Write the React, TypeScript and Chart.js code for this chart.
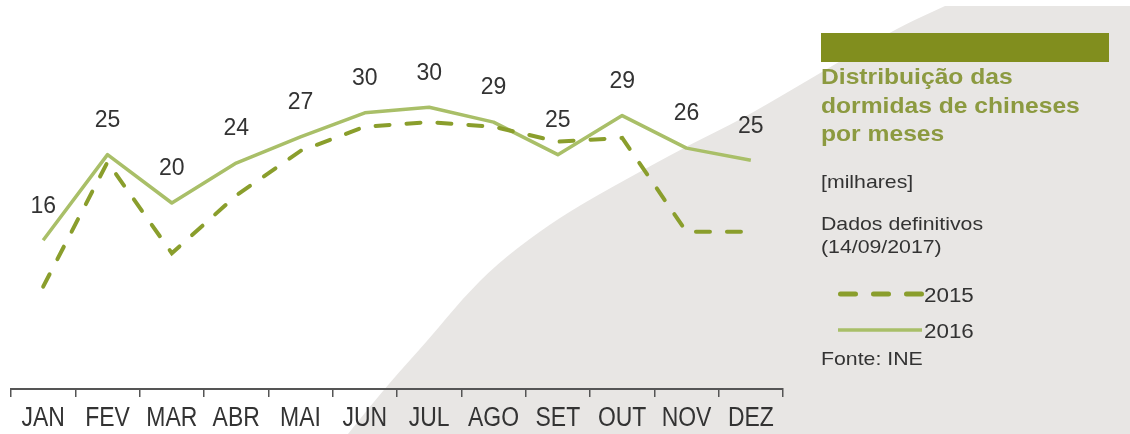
import React, { useEffect, useRef } from "react";
import { Chart, registerables } from "chart.js";

Chart.register(...registerables);

// ---- data ----
const months = ["JAN", "FEV", "MAR", "ABR", "MAI", "JUN", "JUL", "AGO", "SET", "OUT", "NOV", "DEZ"];
const values2015 = [11.0, 24.4, 14.6, 20.8, 25.6, 28.2, 28.7, 28.2, 26.6, 27.0, 16.9, 16.9];
const values2016 = [16.0, 25.2, 20.0, 24.3, 27.1, 29.7, 30.3, 28.7, 25.2, 29.4, 25.9, 24.6];
const seriesNames = ["2015", "2016"];
const titleLines = ["Distribuição das", "dormidas de chineses", "por meses"];
const unitText = "[milhares]";
const noteLines = ["Dados definitivos", "(14/09/2017)"];
const sourceText = "Fonte: INE";

// ---- styles ----
const COLOR_2015 = "#8a9e2c";
const COLOR_2016 = "#a9bf68";
const TITLE_BAR = "#818e1e";
const TITLE_COLOR = "#8c9a40";
const TEXT_COLOR = "#333333";
const BG_GRAY = "#e8e6e4";
const SANS = "'Liberation Sans', Arial, sans-serif";

const bgCurve: [number, number][] = [
  [348, 434], [383, 390], [430, 338], [463, 298], [497, 264], [540, 231], [580, 205],
  [643, 170], [693, 143], [740, 120], [800, 85], [893, 30], [945, 6],
];

const backgroundPlugin = {
  id: "bgShape",
  beforeDraw(chart: any) {
    const ctx = chart.ctx as CanvasRenderingContext2D;
    ctx.save();
    ctx.fillStyle = "#ffffff";
    ctx.fillRect(0, 0, chart.width, chart.height);
    ctx.fillStyle = BG_GRAY;
    ctx.beginPath();
    ctx.moveTo(bgCurve[0][0], bgCurve[0][1]);
    for (let i = 1; i < bgCurve.length - 1; i++) {
      const [x, y] = bgCurve[i];
      const [nx, ny] = bgCurve[i + 1];
      ctx.quadraticCurveTo(x, y, (x + nx) / 2, (y + ny) / 2);
    }
    const last = bgCurve[bgCurve.length - 1];
    ctx.lineTo(last[0], last[1]);
    ctx.lineTo(chart.width, last[1]);
    ctx.lineTo(chart.width, chart.height);
    ctx.closePath();
    ctx.fill();
    ctx.restore();
  },
};

const valueLabelPlugin = {
  id: "valueLabels",
  afterDatasetsDraw(chart: any) {
    const ctx = chart.ctx as CanvasRenderingContext2D;
    const meta = chart.getDatasetMeta(1);
    ctx.save();
    ctx.fillStyle = TEXT_COLOR;
    ctx.font = `23px ${SANS}`;
    ctx.textAlign = "center";
    ctx.textBaseline = "middle";
    meta.data.forEach((pt: any, i: number) => {
      ctx.fillText(String(Math.round(values2016[i])), pt.x, pt.y - 34);
    });
    ctx.restore();
  },
};

// narrow-looking category labels drawn at the x scale's tick positions
const narrowTickPlugin = {
  id: "narrowTicks",
  afterDraw(chart: any) {
    const ctx = chart.ctx as CanvasRenderingContext2D;
    const xs = chart.scales.x;
    ctx.save();
    ctx.fillStyle = TEXT_COLOR;
    ctx.font = `27px ${SANS}`;
    ctx.textAlign = "center";
    ctx.textBaseline = "alphabetic";
    const labels = xs.getLabels();
    xs.ticks.forEach((_t: any, i: number) => {
      const x = xs.getPixelForTick(i);
      ctx.save();
      ctx.translate(x, xs.top + 37);
      ctx.scale(0.85, 1);
      ctx.fillText(String(labels[i]), 0, 0);
      ctx.restore();
    });
    ctx.restore();
  },
};

function TextLine(props: { top: number; size: number; text: string; color?: string; bold?: boolean; left?: number; lh?: number }) {
  const { top, size, text, color, bold, left, lh } = props;
  return (
    <div
      style={{
        position: "absolute",
        left: left ?? 821,
        top,
        fontFamily: SANS,
        fontSize: size,
        lineHeight: `${lh ?? size}px`,
        fontWeight: bold ? 700 : 400,
        color: color ?? TEXT_COLOR,
        whiteSpace: "nowrap",
        transform: "scaleX(1.12)",
        transformOrigin: "left top",
      }}
    >
      {text}
    </div>
  );
}

export default function App() {
  const canvasRef = useRef<HTMLCanvasElement | null>(null);

  useEffect(() => {
    if (!canvasRef.current) return;
    const chart = new Chart(canvasRef.current, {
      type: "line",
      data: {
        labels: months,
        datasets: [
          {
            label: seriesNames[0],
            data: values2015,
            borderColor: COLOR_2015,
            borderWidth: 4,
            borderDash: [14, 17],
            borderCapStyle: "round",
            pointRadius: 0,
            tension: 0,
            fill: false,
          },
          {
            label: seriesNames[1],
            data: values2016,
            borderColor: COLOR_2016,
            borderWidth: 3.5,
            borderJoinStyle: "round",
            pointRadius: 0,
            tension: 0,
            fill: false,
          },
        ],
      },
      options: {
        animation: false,
        responsive: false,
        maintainAspectRatio: false,
        layout: { padding: { top: 17, left: 11, right: 347, bottom: 0 } },
        plugins: { legend: { display: false }, tooltip: { enabled: false } },
        scales: {
          x: {
            offset: true,
            grid: {
              display: true,
              offset: true,
              drawOnChartArea: false,
              drawTicks: true,
              tickLength: 8,
              color: "#555555",
              lineWidth: 1.5,
            },
            border: { display: true, color: "#555555", width: 2 },
            ticks: { display: false, autoSkip: false, maxRotation: 0 },
            afterFit: (s: any) => {
              s.height = 45;
            },
          },
          y: { display: false, min: 0, max: 40 },
        },
      },
      plugins: [backgroundPlugin, valueLabelPlugin, narrowTickPlugin],
    } as any);
    return () => chart.destroy();
  }, []);

  return (
    <div style={{ position: "absolute", left: 0, top: 0, width: 1130, height: 434, overflow: "hidden", background: "#fff" }}>
      <canvas ref={canvasRef} width={1130} height={434} style={{ position: "absolute", left: 0, top: 0, width: 1130, height: 434 }} />
      <div style={{ position: "absolute", left: 821, top: 33, width: 288, height: 29, background: TITLE_BAR }} />
      <div
        style={{
          position: "absolute",
          left: 821,
          top: 63,
          fontFamily: SANS,
          fontSize: 22,
          lineHeight: "28.5px",
          fontWeight: 700,
          color: TITLE_COLOR,
          whiteSpace: "nowrap",
          transform: "scaleX(1.12)",
          transformOrigin: "left top",
        }}
      >
        {titleLines.map((t) => (
          <div key={t}>{t}</div>
        ))}
      </div>
      <TextLine top={172} size={19} text={unitText} />
      <TextLine top={214} size={19} text={noteLines[0]} />
      <TextLine top={237} size={19} text={noteLines[1]} />
      <svg width={1130} height={434} style={{ position: "absolute", left: 0, top: 0, pointerEvents: "none" }}>
        <line x1={840.5} y1={294} x2={921.5} y2={294} stroke={COLOR_2015} strokeWidth={5} strokeDasharray="15 18" strokeLinecap="round" />
        <line x1={838} y1={330} x2={922} y2={330} stroke={COLOR_2016} strokeWidth={3.5} />
      </svg>
      <TextLine left={924} top={285} size={20} text={seriesNames[0]} />
      <TextLine left={924} top={321} size={20} text={seriesNames[1]} />
      <TextLine top={349} size={19} text={sourceText} />
    </div>
  );
}
